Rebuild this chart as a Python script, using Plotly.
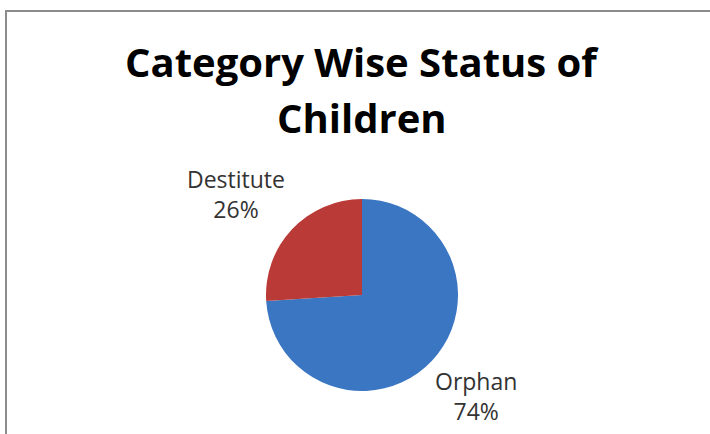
import plotly.graph_objects as go

categories = ["Orphan", "Destitute"]
shares = [74, 26]
colors = ["#3A76C2", "#BA3A37"]
title_lines = ["Category Wise Status of", "Children"]

W, H = 710, 434
cx, cy, r = 362, 295, 96

fig = go.Figure(go.Pie(
    labels=categories,
    values=shares,
    sort=False,
    direction="clockwise",
    rotation=0,
    marker=dict(colors=colors, line=dict(width=0)),
    textinfo="none",
    hoverinfo="label+percent",
    domain=dict(x=[(cx - r) / W, (cx + r) / W], y=[1 - (cy + r) / H, 1 - (cy - r) / H]),
    showlegend=False,
))

label_pos = {"Destitute": (236, 194), "Orphan": (476, 396)}
total = sum(shares)
for cat, v in zip(categories, shares):
    x, y = label_pos[cat]
    fig.add_annotation(
        x=x / W, y=1 - y / H, xref="paper", yref="paper",
        text=f"{cat}<br>{round(100 * v / total)}%",
        showarrow=False, align="center",
        font=dict(family="Open Sans", size=23, color="#333333"),
        xanchor="center", yanchor="middle",
    )

for line, ty in zip(title_lines, [61, 117]):
    fig.add_annotation(
        x=cx / W, y=1 - ty / H, xref="paper", yref="paper",
        text=f"<b>{line}</b>",
        showarrow=False, align="center",
        font=dict(family="Open Sans", size=40, color="#000000"),
        xanchor="center", yanchor="middle",
    )

fig.add_shape(type="rect", xref="paper", yref="paper",
              x0=6 / W, x1=1.1, y0=-0.1, y1=1 - 11 / H,
              line=dict(color="#8C8C8C", width=2), fillcolor="rgba(0,0,0,0)")

fig.update_layout(
    width=W, height=H,
    margin=dict(l=0, r=0, t=0, b=0),
    paper_bgcolor="white", plot_bgcolor="white",
)

fig.write_html("out.html", config={"displayModeBar": False},
               post_script="document.body.style.margin='0';")
